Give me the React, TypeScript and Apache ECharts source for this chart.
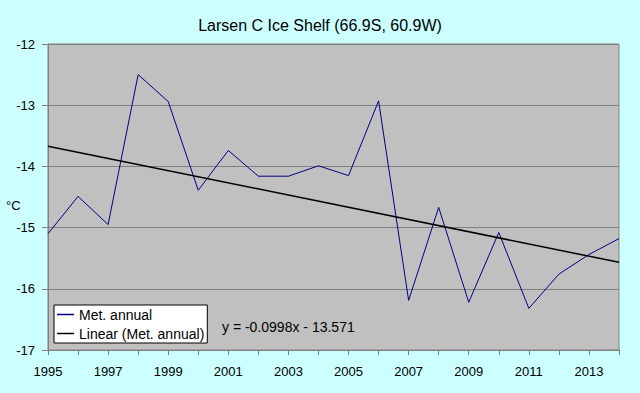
import React, { useEffect, useRef } from "react";
import * as echarts from "echarts";

const years: string[] = [
  "1995", "1996", "1997", "1998", "1999", "2000", "2001", "2002", "2003", "2004",
  "2005", "2006", "2007", "2008", "2009", "2010", "2011", "2012", "2013", "2014",
];

const metAnnual: number[] = [
  -15.1, -14.49, -14.95, -12.5, -12.94, -14.39, -13.74, -14.16, -14.16, -13.99,
  -14.15, -12.93, -16.19, -14.67, -16.22, -15.08, -16.32, -15.76, -15.44, -15.18,
];

const trendStart = -13.67;
const trendEnd = -15.567;

const equationText = "y = -0.0998x - 13.571";
const titleText = "Larsen C Ice Shelf (66.9S, 60.9W)";

export default function App() {
  const ref = useRef<HTMLDivElement>(null);

  useEffect(() => {
    document.body.style.margin = "0";
    if (!ref.current) return;
    const chart = echarts.init(ref.current, undefined, { renderer: "svg" });
    const trend: (number | null)[] = years.map((_, i) =>
      i === 0 ? trendStart : i === years.length - 1 ? trendEnd : null
    );
    const font = "Arial, 'Liberation Sans', sans-serif";
    chart.setOption({
      animation: false,
      backgroundColor: "#ccffff",
      textStyle: { fontFamily: font },
      title: {
        text: titleText,
        left: "center",
        top: 12,
        textStyle: { fontSize: 16, fontWeight: "normal", color: "#000", fontFamily: font },
      },
      grid: {
        left: 48,
        right: 21,
        top: 44,
        bottom: 43,
        show: true,
        backgroundColor: "#c0c0c0",
        borderColor: "#808080",
        borderWidth: 1,
      },
      legend: {
        orient: "vertical",
        left: 54,
        top: 305,
        padding: [2, 3, 2, 3],
        itemGap: 4,
        itemWidth: 17,
        itemHeight: 1.5,
        icon: "rect",
        backgroundColor: "#ffffff",
        borderColor: "#000000",
        borderWidth: 1,
        borderRadius: 0,
        textStyle: { fontSize: 14, color: "#000", lineHeight: 15, fontFamily: font },
        data: ["Met. annual", "Linear (Met. annual)"],
      },
      xAxis: {
        type: "category",
        data: years,
        boundaryGap: false,
        axisLine: { show: true, lineStyle: { color: "#808080" } },
        axisTick: { show: true, interval: 0, length: 5, lineStyle: { color: "#808080" } },
        axisLabel: { interval: 1, fontSize: 13, color: "#000", margin: 15, fontFamily: font },
        splitLine: { show: false },
      },
      yAxis: {
        type: "value",
        min: -17,
        max: -12,
        interval: 1,
        axisLine: { show: true, lineStyle: { color: "#808080" } },
        axisTick: { show: true, length: 6, lineStyle: { color: "#808080" } },
        axisLabel: { fontSize: 13, color: "#000", margin: 13, fontFamily: font },
        splitLine: { show: true, lineStyle: { color: "#808080", width: 1 } },
      },
      graphic: [
        {
          type: "text",
          left: 6,
          top: 199,
          style: { text: "°C", fontSize: 13, fill: "#000", fontFamily: font },
        },
        {
          type: "text",
          left: 222,
          top: 320,
          style: { text: equationText, fontSize: 14, fill: "#000", fontFamily: font },
        },
      ],
      series: [
        {
          name: "Met. annual",
          type: "line",
          data: metAnnual,
          symbol: "none",
          lineStyle: { color: "#000080", width: 1 },
          itemStyle: { color: "#000080" },
        },
        {
          name: "Linear (Met. annual)",
          type: "line",
          data: trend,
          connectNulls: true,
          symbol: "none",
          lineStyle: { color: "#000000", width: 1.5 },
          itemStyle: { color: "#000000" },
        },
      ],
    });
    return () => chart.dispose();
  }, []);

  return <div ref={ref} style={{ width: 640, height: 393 }} />;
}
